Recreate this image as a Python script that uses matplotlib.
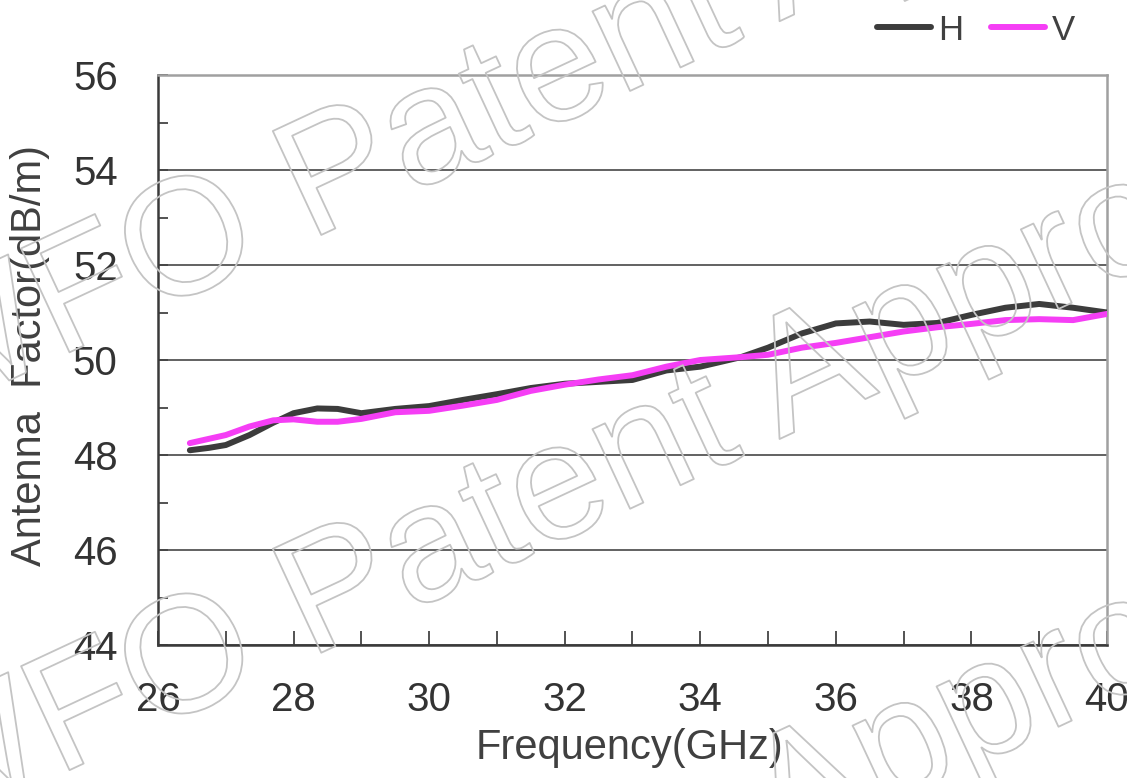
import matplotlib
matplotlib.use("Agg")
import matplotlib.pyplot as plt
import matplotlib.patheffects as pe
from matplotlib.ticker import MultipleLocator

# ---- data ----
freq = [26.47, 26.75, 27.0, 27.35, 27.7, 28.0, 28.35, 28.65, 29.0, 29.5, 30.0,
        30.5, 31.0, 31.5, 32.0, 32.5, 33.0, 33.5, 34.0, 34.6, 35.0, 35.5, 36.0,
        36.5, 37.0, 37.5, 38.0, 38.5, 39.0, 39.5, 40.0]
h_values = [48.10, 48.15, 48.21, 48.42, 48.68, 48.88, 48.98, 48.97, 48.88, 48.97,
            49.03, 49.16, 49.28, 49.41, 49.50, 49.54, 49.58, 49.78, 49.86, 50.06,
            50.26, 50.56, 50.77, 50.81, 50.74, 50.78, 50.95, 51.10, 51.18, 51.10,
            51.00]
v_values = [48.25, 48.34, 48.42, 48.60, 48.73, 48.75, 48.70, 48.70, 48.76, 48.90,
            48.93, 49.04, 49.16, 49.35, 49.48, 49.59, 49.68, 49.86, 50.00, 50.06,
            50.11, 50.26, 50.36, 50.48, 50.60, 50.69, 50.76, 50.84, 50.86, 50.84,
            50.97]
series_labels = ["H", "V"]
x_ticks = [26, 28, 30, 32, 34, 36, 38, 40]
y_ticks = [44, 46, 48, 50, 52, 54, 56]
x_label = "Frequency(GHz)"
y_label = "Antenna  Factor(dB/m)"
watermark = "WFO Patent Approval"

plt.rcParams['font.family'] = ['Liberation Sans', 'DejaVu Sans']

W, H = 1127, 778
fig = plt.figure(figsize=(W / 100, H / 100), dpi=100)
ax = fig.add_axes([158 / W, 1 - 645 / H, (1107 - 158) / W, (645 - 75) / H])

dark = '#3c3c3c'
mag = '#f53ef5'
txt = '#404040'

ax.plot(freq, h_values, color=dark, lw=4.3, solid_capstyle='round',
        solid_joinstyle='round', label=series_labels[0], zorder=3)
ax.plot(freq, v_values, color=mag, lw=4.3, solid_capstyle='round',
        solid_joinstyle='round', label=series_labels[1], zorder=4)

ax.set_xlim(26, 40)
ax.set_ylim(44, 56)
ax.set_xticks(x_ticks)
ax.set_yticks(y_ticks)
ax.xaxis.set_minor_locator(MultipleLocator(1))
ax.yaxis.set_minor_locator(MultipleLocator(1))

ax.yaxis.grid(True, which='major', color='#474747', lw=1.2)
ax.set_axisbelow(True)

ax.tick_params(axis='x', which='both', direction='in', length=10, width=1.3,
               color='#444444', labelsize=29, labelcolor='#333333', pad=26,
               top=False)
ax.tick_params(axis='y', which='major', direction='in', length=0, width=1.3,
               labelsize=29, labelcolor='#333333', pad=29, right=False)
ax.tick_params(axis='y', which='minor', direction='in', length=7, width=1.3,
               color='#444444', right=False)
ax.tick_params(axis='y', which='major', length=7, color='#444444')

for s in ['left', 'bottom']:
    ax.spines[s].set_color('#3a3a3a')
    ax.spines[s].set_linewidth(1.8)
for s in ['top', 'right']:
    ax.spines[s].set_color('#a0a0a0')
    ax.spines[s].set_linewidth(1.8)

fig.text(630 / W, 1 - 748 / H, x_label, fontsize=30, color=txt,
         ha='center', va='center')
fig.text(30 / W, 1 - 355 / H, y_label, fontsize=30, color=txt,
         ha='center', va='center', rotation=90)

leg = fig.legend(loc='center right', bbox_to_anchor=(1075 / W, 1 - 30 / H),
                 ncol=2, frameon=False, fontsize=25, handlelength=1.55,
                 handletextpad=0.2, columnspacing=0.8, borderaxespad=0,
                 borderpad=0)
for t in leg.get_texts():
    t.set_color(txt)

# watermark outline text
for cy in [0.942, 0.405, -0.132]:
    fig.text(0.556, cy, watermark, fontsize=120, color=(1, 1, 1, 0),
             ha='center', va='center', rotation=25, rotation_mode='anchor',
             path_effects=[pe.withStroke(linewidth=1.3, foreground='#c4c4c4')],
             zorder=10)

fig.savefig('out.png', dpi=100, facecolor='white')
